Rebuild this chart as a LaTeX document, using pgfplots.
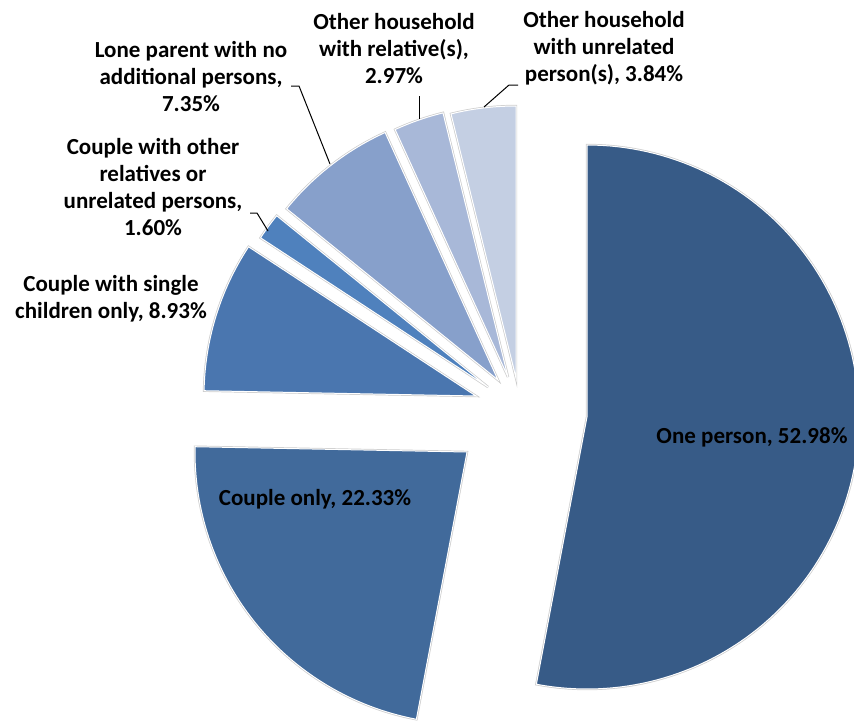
\documentclass[border=0pt]{standalone}
\usepackage{pgfplots}
\pgfplotsset{compat=1.18}
\usepackage{fontspec}
\setmainfont{Carlito}
\definecolor{cOne}{HTML}{375B87}
\definecolor{cCouple}{HTML}{416A9B}
\definecolor{cSingle}{HTML}{4A76AF}
\definecolor{cOther}{HTML}{4F81BD}
\definecolor{cLone}{HTML}{87A0CB}
\definecolor{cRel}{HTML}{A8B8D8}
\definecolor{cUnrel}{HTML}{C4CFE3}
\tikzset{lbl/.style={font=\fontsize{23}{27}\selectfont\bfseries, align=center, text=black, inner sep=0pt}}
% #1 colour, #2 cumulative start (%), #3 cumulative end (%), #4 #5 slice vertex
\newcommand{\pieslice}[5]{%
  \addplot[draw=black!20, line width=2.4pt, fill=#1, domain={3.6*#2}:{3.6*#3}, samples=120, variable=\t]
    ({#4+272*sin(\t)}, {#5-272*cos(\t)}) -- (axis cs:#4,#5) -- cycle;
  \addplot[draw=white, line width=1pt, fill=#1, domain={3.6*#2}:{3.6*#3}, samples=120, variable=\t]
    ({#4+272*sin(\t)}, {#5-272*cos(\t)}) -- (axis cs:#4,#5) -- cycle;
}
\begin{document}
\begin{tikzpicture}
\begin{axis}[
  x=1pt, y=1pt, xmin=0, xmax=854, ymin=0, ymax=721, y dir=reverse,
  axis lines=box, axis line style={draw=none}, ticks=none,
  clip=true,
]
% shares (%): 52.98, 22.33, 8.93, 1.60, 7.35, 2.97, 3.84
\pieslice{cOne}{0}{52.98}{587}{417}
\pieslice{cCouple}{52.98}{75.31}{467}{452}
\pieslice{cSingle}{75.31}{84.24}{476}{396}
\pieslice{cOther}{84.24}{85.84}{488}{387}
\pieslice{cLone}{85.84}{93.19}{498}{380}
\pieslice{cRel}{93.19}{96.16}{508}{377}
\pieslice{cUnrel}{96.16}{100}{516}{378}
% leader lines
\addplot[black, line width=1pt] coordinates {(291,86) (299,86) (330,164)};
\addplot[black, line width=1pt] coordinates {(419,96) (419,119)};
\addplot[black, line width=1pt] coordinates {(518,85) (509,85) (484,107)};
\addplot[black, line width=1pt] coordinates {(250,213) (257,213) (268,231)};
% labels
\node[lbl] at (axis cs:752,437) {One person, 52.98\%};
\node[lbl] at (axis cs:315,499) {Couple only, 22.33\%};
\node[lbl] at (axis cs:111,299) {Couple with single\\children only, 8.93\%};
\node[lbl] at (axis cs:153,187) {Couple with other\\relatives or\\unrelated persons,\\1.60\%};
\node[lbl] at (axis cs:191,77) {Lone parent with no\\additional persons,\\7.35\%};
\node[lbl] at (axis cs:394,49) {Other household\\with relative(s),\\2.97\%};
\node[lbl] at (axis cs:604,48) {Other household\\with unrelated\\person(s), 3.84\%};
\end{axis}
\end{tikzpicture}
\end{document}
